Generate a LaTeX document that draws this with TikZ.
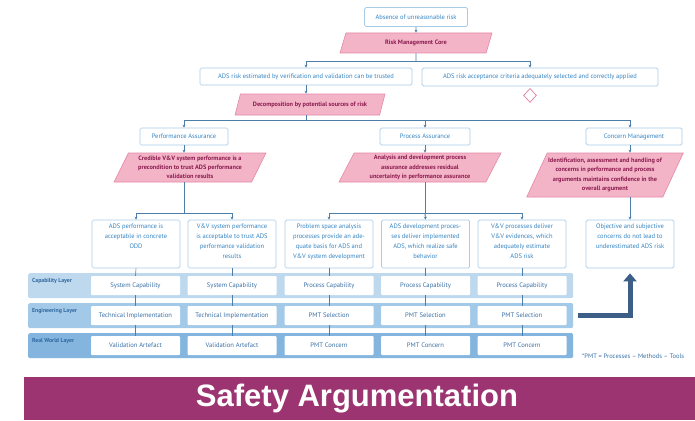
\documentclass[tikz,border=0pt]{standalone}
\usepackage{fontspec}
\setmainfont{PT Sans}
\newfontfamily\bannerfont{Liberation Sans}
\usetikzlibrary{shapes.geometric,arrows.meta,calc}

\definecolor{boxline}{HTML}{A8CBE6}
\definecolor{boxtext}{HTML}{3584C2}
\definecolor{conn}{HTML}{4C7EA8}
\definecolor{pinkfill}{HTML}{F3B4C8}
\definecolor{pinkline}{HTML}{E389A7}
\definecolor{pinktext}{HTML}{8C1C4E}
\definecolor{capfill}{HTML}{BED9EE}
\definecolor{engfill}{HTML}{A3C9E8}
\definecolor{realfill}{HTML}{83B5DE}
\definecolor{innertext}{HTML}{3A70A6}
\definecolor{labeltext}{HTML}{2F67A0}
\definecolor{bigarrowcol}{HTML}{3D5F87}
\definecolor{bannercol}{HTML}{9B3470}

% top-aligned multi-line text for the claim boxes
\newcommand\claimtext[1]{\parbox[c][41pt][t]{86pt}{\centering #1}}

\begin{document}
\begin{tikzpicture}[x=1pt,y=-1pt,
  goal/.style={draw=boxline, fill=white, rounded corners=1.5pt, line width=0.7pt,
    font=\fontsize{6.5}{7}\selectfont, text=boxtext, align=center, inner sep=1pt},
  strat/.style={trapezium, trapezium left angle=60, trapezium right angle=120,
    trapezium stretches body, draw=pinkline, fill=pinkfill, line width=0.6pt,
    font=\bfseries\fontsize{6.3}{9.2}\selectfont, text=pinktext, align=center, inner sep=1pt},
  claim/.style={goal, minimum width=88, minimum height=48, font=\fontsize{6.5}{10}\selectfont},
  band/.style={rounded corners=1.5pt, minimum width=545, minimum height=25, inner sep=0, anchor=north west},
  layerlabel/.style={font=\bfseries\fontsize{5.8}{6}\selectfont, text=labeltext, anchor=north west, inner sep=0},
  cell/.style={fill=white, rounded corners=1pt, minimum width=89, minimum height=19, inner sep=0,
    font=\fontsize{6.6}{7}\selectfont, text=innertext},
  line/.style={draw=conn, line width=0.9pt},
  arr/.style={line, -{Stealth[length=3pt,width=3pt]}},
  tick/.style={draw=conn, line width=0.6pt},
  bigarrow/.style={draw=bigarrowcol, line width=5pt, -{Triangle[width=13pt,length=8pt]}}
]
\useasboundingbox (0,0) rectangle (695,420);

% goal structure
\node[goal, minimum width=103, minimum height=19] (top) at (416,17) {Absence of unreasonable risk};
\node[strat, minimum width=152, minimum height=20, trapezium left angle=53, trapezium right angle=127] (rmc) at (416,43) {Risk Management Core};
\node[goal, minimum width=212, minimum height=17] (ads1) at (306,76.5) {ADS risk estimated by verification and validation can be trusted};
\node[goal, minimum width=236, minimum height=18] (ads2) at (540,77) {ADS risk acceptance criteria adequately selected and correctly applied};
\node[diamond, draw=pinkline, line width=0.8pt, minimum width=13, minimum height=14, inner sep=0, anchor=north] (undev) at (530,88) {};
\node[strat, minimum width=150, minimum height=21, trapezium left angle=55, trapezium right angle=125] (dec) at (310,104.5) {Decomposition by potential sources of risk};

\node[goal, minimum width=88, minimum height=17] (pa) at (184,136.5) {Performance Assurance};
\node[goal, minimum width=90, minimum height=17] (pra) at (425,136.5) {Process Assurance};
\node[goal, minimum width=96, minimum height=17] (cm) at (634,136.5) {Concern Management};

\node[strat, minimum width=152, minimum height=29] (cred) at (190,167.5) {Credible V\&V system performance is a\\precondition to trust ADS performance\\validation results};
\node[strat, minimum width=162, minimum height=29] (ana) at (420,167.5) {Analysis and development process\\assurance addresses residual\\uncertainty in performance assurance};
\node[strat, minimum width=152, minimum height=44] (ident) at (605,175) {Identification, assessment and handling of\\concerns in performance and process\\arguments maintains confidence in the\\overall argument};

\node[claim] (c1) at (136,244) {\claimtext{ADS performance is\\acceptable in concrete\\ODD}};
\node[claim] (c2) at (232,244) {\claimtext{V\&V system performance\\is acceptable to trust ADS\\performance validation\\results}};
\node[claim] (c3) at (329,244) {\claimtext{Problem space analysis\\processes provide an ade-\\quate basis for ADS and\\V\&V system development}};
\node[claim] (c4) at (425.5,244) {\claimtext{ADS development proces-\\ses deliver implemented\\ADS, which realize safe\\behavior}};
\node[claim] (c5) at (522,244) {\claimtext{V\&V processes deliver\\V\&V evidences, which\\adequately estimate\\ADS risk}};
\node[claim] (c6) at (630,244) {\claimtext{Objective and subjective\\concerns do not lead to\\underestimated ADS risk}};

% connectors of the goal structure
\coordinate (j1) at (416,61);
\draw[arr] (top.south) -- (rmc.north);
\draw[line] (rmc.south) -- (j1);
\draw[arr] (j1) -| (ads1.north);
\draw[arr] (j1) -| ([xshift=-10pt]ads2.north);
\draw[arr] (ads1.south) -- (ads1.south |- dec.north);
\coordinate (j2) at (306,120);
\draw[line] (ads1.south |- dec.south) -- (j2);
\draw[arr] (j2) -| (pa.north);
\draw[arr] (j2) -| (pra.north);
\draw[arr] (j2) -| ([xshift=-4pt]cm.north);
\draw[arr] (pa.south) -- (pa.south |- cred.north);
\draw[arr] (pra.south) -- (pra.south |- ana.north);
\draw[arr] ([xshift=-4pt]cm.south) -- ([xshift=-4pt]cm.south |- ident.north);
\coordinate (j3) at (184,213);
\draw[line] (pa.south |- cred.south) -- (j3);
\draw[arr] (j3) -| (c1.north);
\draw[arr] (j3) -| (c2.north);
\coordinate (j4) at (425,213);
\draw[line] (pra.south |- ana.south) -- (j4);
\draw[arr] (j4) -| (c3.north);
\draw[arr] (j4) -| (c5.north);
\draw[arr] (j4) -- (c4.north);
\draw[arr] ([xshift=-4pt]cm.south |- ident.south) -- ([xshift=-4pt]cm.south |- c6.north);

% layers
\node[band, fill=capfill] (capband) at (28,273) {};
\node[band, fill=engfill] (engband) at (28,303) {};
\node[band, fill=realfill] (realband) at (28,333) {};
\node[layerlabel] (caplab) at (32,278) {Capability Layer};
\node[layerlabel] (englab) at (32,308) {Engineering Layer};
\node[layerlabel] (reallab) at (32,338) {Real World Layer};

\foreach \i/\x/\a/\b/\c in {
  1/135.5/System Capability/Technical Implementation/Validation Artefact,
  2/232/System Capability/Technical Implementation/Validation Artefact,
  3/329/Process Capability/PMT Selection/PMT Concern,
  4/425.5/Process Capability/PMT Selection/PMT Concern,
  5/522/Process Capability/PMT Selection/PMT Concern}{
  \node[cell] (cap\i) at (\x,285.5) {\a};
  \node[cell] (eng\i) at (\x,315.5) {\b};
  \node[cell] (real\i) at (\x,345.5) {\c};
  \draw[tick] (c\i.south) -- (cap\i.north);
  \draw[tick] (cap\i.south) -- (eng\i.north);
  \draw[tick] (eng\i.south) -- (real\i.north);
}

\draw[bigarrow, shorten <=5pt, shorten >=5pt] (engband.east) -| (c6.south);

\node[font=\fontsize{6.5}{6.5}\selectfont, text=innertext, anchor=west, inner sep=0] (note) at (582,356) {*PMT = Processes -- Methods -- Tools};

% title banner
\fill[bannercol] (24,377) rectangle (695,420);
\node[font=\bannerfont\bfseries\fontsize{31}{32}\selectfont, text=white] (title) at (357,399) {Safety Argumentation};
\end{tikzpicture}
\end{document}
